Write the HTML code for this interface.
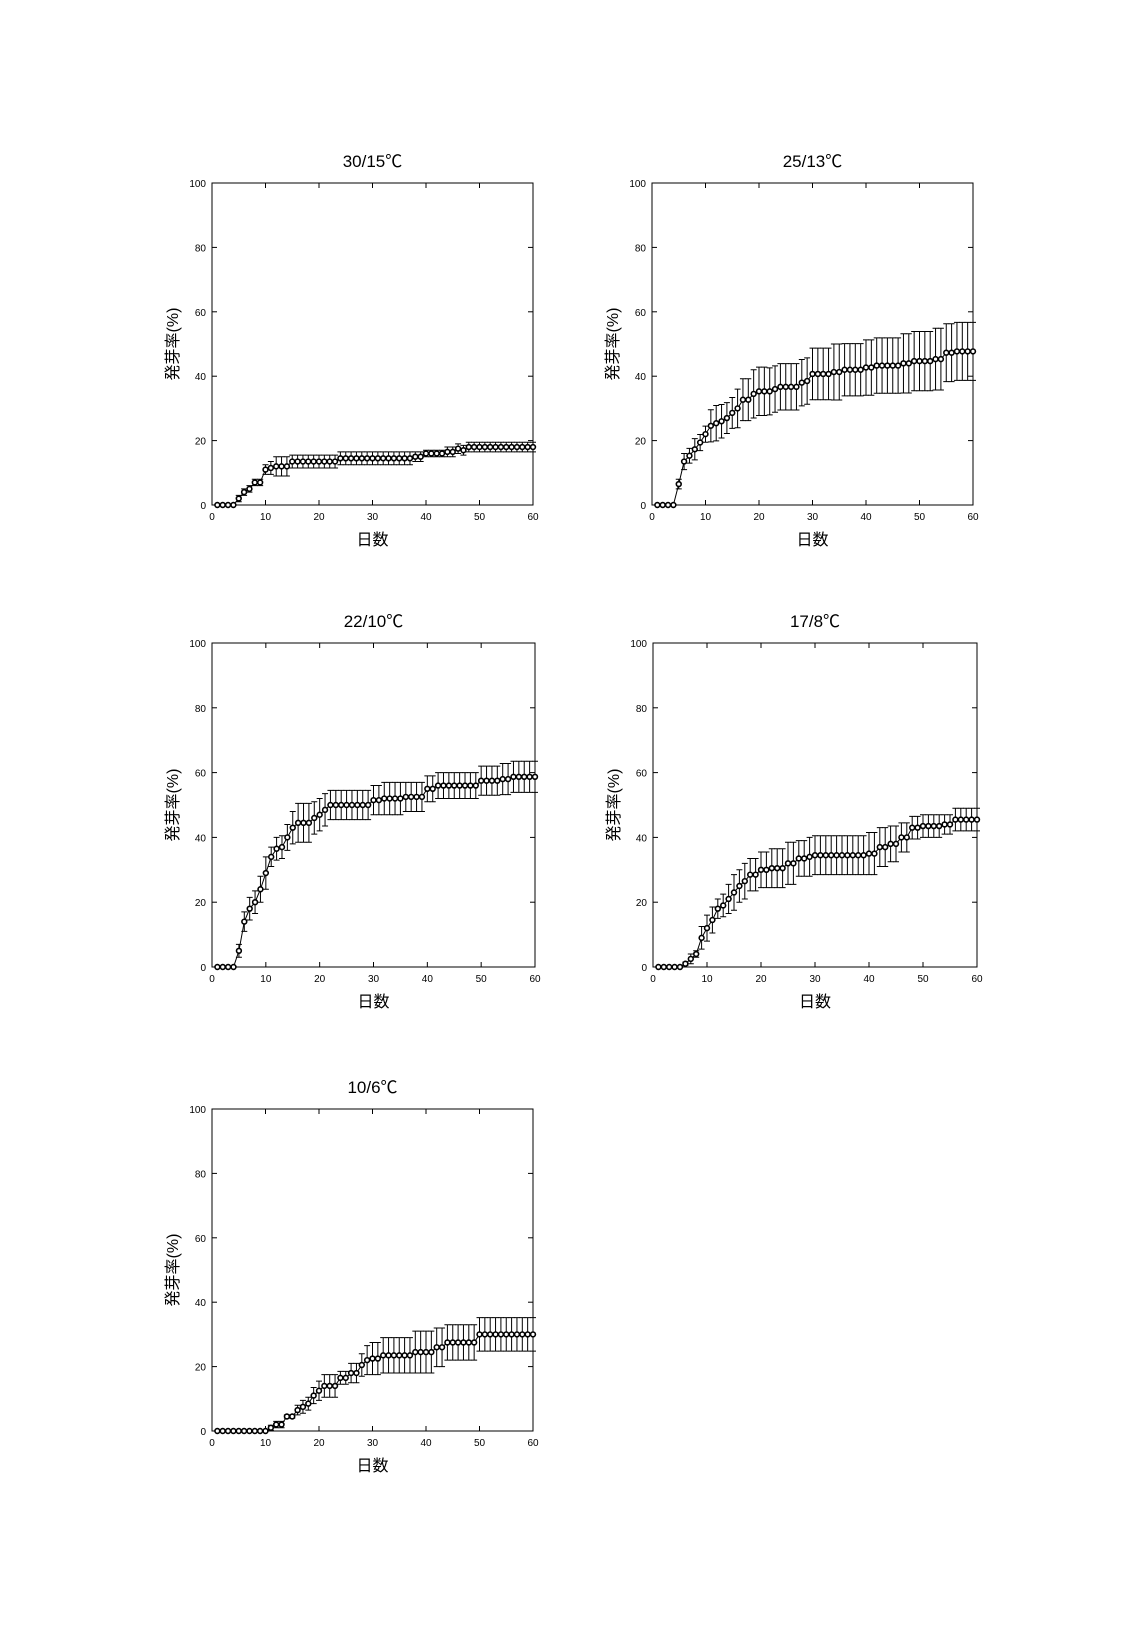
<!DOCTYPE html>
<html><head><meta charset="utf-8"><style>
body{margin:0;background:#fff}
svg text{font-family:"Liberation Sans","Noto Sans CJK JP",sans-serif}
</style></head><body>
<svg id="c" width="1142" height="1632" xmlns="http://www.w3.org/2000/svg"></svg>
<script>
const titles=["30/15℃","25/13℃","22/10℃","17/8℃","10/6℃"];
const xTicks=[0,10,20,30,40,50,60];
const yTicks=[0,20,40,60,80,100];
const s1=[0,0,0,0,2,4,5,7,7,11,11.5,12,12,12,13.5,13.5,13.5,13.5,13.5,13.5,13.5,13.5,13.5,14.5,14.5,14.5,14.5,14.5,14.5,14.5,14.5,14.5,14.5,14.5,14.5,14.5,14.5,15,15,16,16,16,16,16.5,16.5,17.5,17,18,18,18,18,18,18,18,18,18,18,18,18,18];
const e1=[0,0,0,0,1,1,1,1,1,1.5,2,3,3,3,2,2,2,2,2,2,2,2,2,2,2,2,2,2,2,2,2,2,2,2,2,2,2,1.5,1.5,1,1,1,1,1.5,1.5,1.5,1.5,1.5,1.5,1.5,1.5,1.5,1.5,1.5,1.5,1.5,1.5,1.5,1.5,1.5];
const s2=[0,0,0,0,6.5,13.5,15.3,17.3,19.4,22,24.6,25.4,26,27,28.6,30,32.7,32.7,34.5,35.3,35.3,35.3,36,36.7,36.7,36.7,36.7,38,38.5,40.7,40.7,40.7,40.7,41.3,41.3,42,42,42,42,42.7,42.7,43.3,43.3,43.3,43.3,43.3,44,44,44.7,44.7,44.7,44.7,45.3,45.3,47.3,47.3,47.7,47.7,47.7,47.7];
const e2=[0,0,0,0,1.5,2.5,2.3,3.3,2.5,2.5,5,5.5,5.2,4.8,4.8,6,6.5,6.5,7.5,7.5,7.5,7.3,7.2,7.2,7.2,7.2,7.2,7.2,7.2,8,8,8,8,8.7,8.7,8.1,8.1,8.1,8.1,8.6,8.6,8.6,8.6,8.6,8.6,8.6,9.2,9.2,9.2,9.2,9.2,9.2,9.6,9.6,9,9,9,9,9,9];
const s3=[0,0,0,0,5,14,18,20,24,29,34,36.5,37,40,43,44.5,44.5,44.5,46,47,48.5,50,50,50,50,50,50,50,50,51.5,51.5,52,52,52,52,52.5,52.5,52.5,52.5,55,55,56,56,56,56,56,56,56,56,57.5,57.5,57.5,57.5,58,58,58.7,58.7,58.7,58.7,58.7];
const e3=[0,0,0,0,2,3,3.5,3.5,4,5,3,3.5,3.5,4,5,6,6,6,5,5,5,4.5,4.5,4.5,4.5,4.5,4.5,4.5,4.5,4.5,4.5,5,5,5,5,4.5,4.5,4.5,4.5,4,4,4,4,4,4,4,4,4,4,4.5,4.5,4.5,4.5,4.8,4.8,4.8,4.8,4.8,4.8,4.8];
const s4=[0,0,0,0,0,1,2.5,4,9,12,14.5,18,19,21,23,25,26.5,28.5,28.5,30,30,30.5,30.5,30.5,32,32,33.5,33.5,34,34.5,34.5,34.5,34.5,34.5,34.5,34.5,34.5,34.5,34.5,35,35,37,37,38,38,40,40,43,43,43.5,43.5,43.5,43.5,44,44,45.5,45.5,45.5,45.5,45.5];
const e4=[0,0,0,0,0,0.5,1.5,1,3.5,4,4,3,3.5,4.5,5.5,5,5.5,5,5,5.5,5.5,6,6,6,6.5,6.5,5.5,5.5,6,6,6,6,6,6,6,6,6,6,6,6.5,6.5,6,6,5.5,5.5,4.5,4.5,3.5,3.5,3.5,3.5,3.5,3.5,3,3,3.5,3.5,3.5,3.5,3.5];
const s5=[0,0,0,0,0,0,0,0,0,0,1,2,2,4.5,4.5,6.5,7.5,8.5,11,12.5,14,14,14,16.5,16.5,18,18,20.5,22,22.5,22.5,23.5,23.5,23.5,23.5,23.5,23.5,24.5,24.5,24.5,24.5,26,26,27.5,27.5,27.5,27.5,27.5,27.5,30,30,30,30,30,30,30,30,30,30,30];
const e5=[0,0,0,0,0,0,0,0,0,0,0.8,1,1,0.5,0.5,1.5,2,2,2.5,3,3.5,3.5,3.5,2,2,3,3,3.5,4.5,5,5,5.5,5.5,5.5,5.5,5.5,5.5,6.5,6.5,6.5,6.5,6,6,5.5,5.5,5.5,5.5,5.5,5.5,5.2,5.2,5.2,5.2,5.2,5.2,5.2,5.2,5.2,5.2,5.2];
const series=[s1,s2,s3,s4,s5];
const errs=[e1,e2,e3,e4,e5];
const boxes=[[212,183,533,505],[652,183,973,505],[212,643,535,967],[653,643,977,967],[212,1109,533,1431]];
const NS="http://www.w3.org/2000/svg";
const svg=document.getElementById('c');
function mk(tag,attrs,parent){const e=document.createElementNS(NS,tag);for(const k in attrs)e.setAttribute(k,attrs[k]);(parent||svg).appendChild(e);return e;}
boxes.forEach((b,p)=>{
  const [x0,y0,x1,y1]=b;
  const g=mk('g',{});
  
  
  const X=v=>x0+(x1-x0)*v/60, Y=v=>y1-(y1-y0)*v/100;
  const fr=mk('rect',{x:x0,y:y0,width:x1-x0,height:y1-y0,fill:'none',stroke:'#000','stroke-width':1},g);
  
  
  const t=mk('text',{x:(x0+x1)/2,y:y0-16,'text-anchor':'middle','font-size':17},g);t.textContent=titles[p];
  
  
  xTicks.forEach(v=>{
    mk('line',{x1:X(v),x2:X(v),y1:y1,y2:y1-5,stroke:'#000'},g);
    mk('line',{x1:X(v),x2:X(v),y1:y0,y2:y0+5,stroke:'#000'},g);
    const tl=mk('text',{x:X(v),y:y1+15,'text-anchor':'middle','font-size':10},g);tl.textContent=v;
    
    
  });
  yTicks.forEach(v=>{
    mk('line',{x1:x0,x2:x0+5,y1:Y(v),y2:Y(v),stroke:'#000'},g);
    mk('line',{x1:x1,x2:x1-5,y1:Y(v),y2:Y(v),stroke:'#000'},g);
    const tl=mk('text',{x:x0-6,y:Y(v)+4,'text-anchor':'end','font-size':10},g);tl.textContent=v;
    
    
  });
  const xl=mk('text',{x:(x0+x1)/2,y:y1+40,'text-anchor':'middle','font-size':16},g);xl.textContent='日数';
  
  
  const cy=(y0+y1)/2, lx=x0-34;
  const yl=mk('text',{x:lx,y:cy,'text-anchor':'middle','font-size':16,transform:`rotate(-90 ${lx} ${cy})`},g);yl.textContent='発芽率(%)';
  
  
  const s=series[p],e=errs[p];
  const pts=s.map((v,i)=>X(i+1)+','+Y(v)).join(' ');
  const pl=mk('polyline',{points:pts,fill:'none',stroke:'#000','stroke-width':1},g);
  
  
  s.forEach((v,i)=>{
    const x=X(i+1);
    if(e[i]>0){
      const eb=mk('path',{d:`M${x},${Y(v-e[i])}V${Y(v+e[i])}M${x-3},${Y(v-e[i])}h6M${x-3},${Y(v+e[i])}h6`,stroke:'#000','stroke-width':1,fill:'none'},g);
      
      
    }
    const c=mk('circle',{cx:x,cy:Y(v),r:2.4,fill:'#fff',stroke:'#000','stroke-width':1.6},g);
    
    
  });
});
</script>
</body></html>
